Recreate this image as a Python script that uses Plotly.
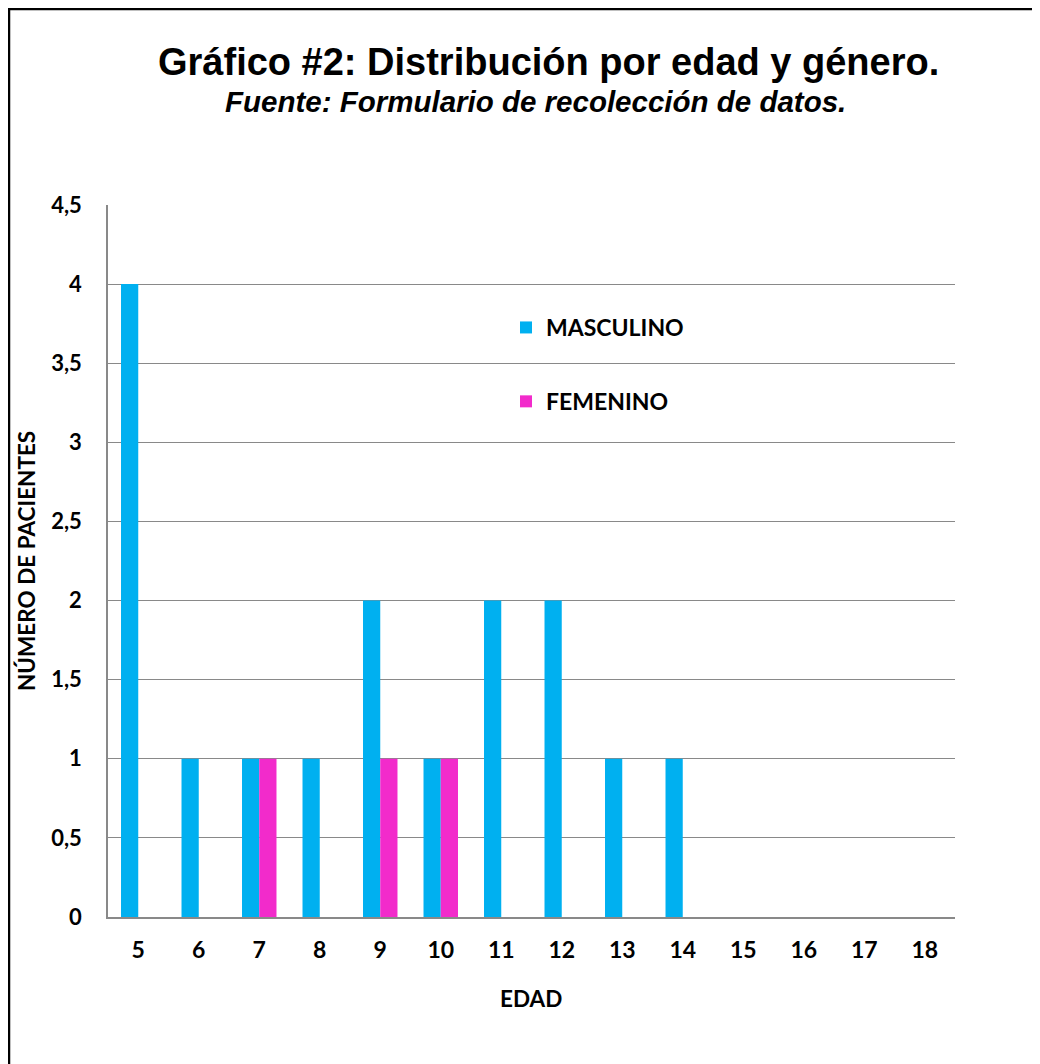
import plotly.graph_objects as go

edades = ["5", "6", "7", "8", "9", "10", "11", "12", "13", "14", "15", "16", "17", "18"]
masculino = [4, 1, 1, 1, 2, 1, 2, 2, 1, 1, 0, 0, 0, 0]
femenino = [0, 0, 1, 0, 1, 1, 0, 0, 0, 0, 0, 0, 0, 0]

# page has an 8px body margin; figure coordinates = page coordinates - 8
OFF = 8
W, H = 1040 - OFF, 1064 - OFF
L, R, T, B = 108 - OFF, 955 - OFF, 205 - OFF, 917 - OFF
pw, ph = R - L, B - T


def px(x):
    return (x - OFF - L) / pw


def py(y):
    return (B - (y - OFF)) / ph


FONT = "Lato"

fig = go.Figure()
fig.add_trace(go.Bar(x=edades, y=masculino, name="MASCULINO", marker_color="#00B0F0",
                     marker_line_width=0, legendgroup="m"))
fig.add_trace(go.Bar(x=edades, y=femenino, name="FEMENINO", marker_color="#F22BCB",
                     marker_line_width=0, legendgroup="f"))

fig.update_layout(
    width=W, height=H,
    margin=dict(l=L, r=W - R, t=T, b=H - B, pad=0),
    paper_bgcolor="white", plot_bgcolor="white",
    barmode="group", bargap=0.43, bargroupgap=0,
    separators=", ",
    font=dict(family=FONT, color="#000000"),
    showlegend=True,
    legend=dict(x=px(506), y=py(306), xanchor="left", yanchor="top",
                font=dict(family=FONT, size=23, color="#000000", weight="bold"),
                bgcolor="rgba(0,0,0,0)", tracegroupgap=41, traceorder="grouped"),
    xaxis=dict(type="category", showgrid=False, showline=True, linecolor="#898989", linewidth=2,
               ticks="", tickfont=dict(family=FONT, size=23, color="#000000", weight="bold"),
               ticklabelstandoff=11, fixedrange=True),
    yaxis=dict(range=[0, 4.5], dtick=0.5, showgrid=True, gridcolor="#898989", gridwidth=1.4,
               showline=True, linecolor="#898989", linewidth=1.5, zeroline=False,
               ticks="", tickfont=dict(family=FONT, size=22, color="#000000", weight="bold"),
               ticklabelstandoff=20, fixedrange=True),
    annotations=[
        dict(text="<b>Gráfico #2: Distribución por edad y género.</b>", x=px(548), y=py(62),
             xref="paper", yref="paper", showarrow=False, xanchor="center", yanchor="middle",
             font=dict(family="Liberation Sans", size=38, color="#000000")),
        dict(text="<b><i>Fuente: Formulario de recolección de datos.</i></b>", x=px(535), y=py(101),
             xref="paper", yref="paper", showarrow=False, xanchor="center", yanchor="middle",
             font=dict(family="Liberation Sans", size=29.5, color="#000000")),
        dict(text="<b>NÚMERO DE PACIENTES</b>", x=px(26), y=py(561), textangle=-90,
             xref="paper", yref="paper", showarrow=False, xanchor="center", yanchor="middle",
             font=dict(family=FONT, size=22.5, color="#000000")),
        dict(text="<b>EDAD</b>", x=px(531), y=py(998),
             xref="paper", yref="paper", showarrow=False, xanchor="center", yanchor="middle",
             font=dict(family=FONT, size=22.5, color="#000000")),
    ],
    shapes=[
        dict(type="line", xref="paper", yref="paper", x0=px(9), x1=px(9), y0=py(8), y1=py(1064),
             line=dict(color="#000000", width=2.5)),
        dict(type="line", xref="paper", yref="paper", x0=px(9), x1=px(1040), y0=py(9), y1=py(9),
             line=dict(color="#000000", width=2.5)),
    ],
)

fig.write_html("out.html", config={"displayModeBar": False})
